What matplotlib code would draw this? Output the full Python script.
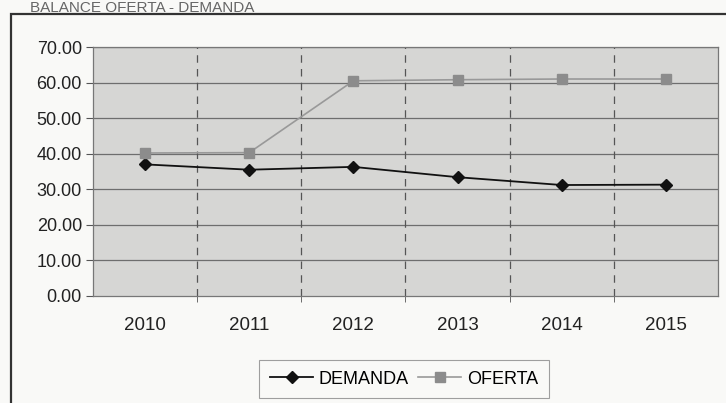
import matplotlib
matplotlib.use("Agg")
import matplotlib.pyplot as plt
from matplotlib.patches import Rectangle

years = ["2010", "2011", "2012", "2013", "2014", "2015"]
demanda = [37.0, 35.5, 36.3, 33.4, 31.2, 31.3]
oferta = [40.2, 40.3, 60.5, 60.8, 61.0, 61.0]
yticks = [0, 10, 20, 30, 40, 50, 60, 70]

plt.rcParams['font.family'] = ['Liberation Sans', 'DejaVu Sans']

fig = plt.figure(figsize=(7.26, 4.03), dpi=100)
fig.patch.set_facecolor('#f9f9f7')

# outer chart frame
fig.patches.append(Rectangle((11/726, -0.05), 1.2, 1 - 14/403 + 0.05,
                             transform=fig.transFigure, fill=False,
                             edgecolor='#333333', linewidth=1.6))
fig.text(30/726, 1.0 - 1/403, "BALANCE OFERTA - DEMANDA", fontsize=11,
         color='#666666', va='top', ha='left')

ax = fig.add_axes([93/726, 1 - 296/403, 625/726, 249/403])
ax.set_facecolor('#d6d6d4')
x = list(range(len(years)))
ax.plot(x, demanda, color='#111111', linewidth=1.3, marker='D', markersize=6.5,
        markerfacecolor='#111111', markeredgecolor='#111111', label='DEMANDA', zorder=3)
ax.plot(x, oferta, color='#999999', linewidth=1.2, marker='s', markersize=6.5,
        markerfacecolor='#8c8c8c', markeredgecolor='#8c8c8c', label='OFERTA', zorder=3)

ax.set_xlim(-0.5, len(years) - 0.5)
ax.set_ylim(0, 70)
ax.set_yticks(yticks)
ax.set_yticklabels([f"{v:.2f}" for v in yticks], fontsize=13, color='#222222')
ax.set_xticks(x)
ax.set_xticklabels(years, fontsize=13.5, color='#222222')
ax.tick_params(axis='x', length=0, pad=15)
ax.tick_params(axis='y', length=5, color='#555555', pad=3)
ax.set_xticks([i + 0.5 for i in range(len(years) - 1)], minor=True)
ax.tick_params(axis='x', which='minor', length=4, color='#555555')

for v in yticks[1:]:
    ax.axhline(v, color='#6e6e6e', linewidth=0.9, zorder=1)
for i in range(len(years) - 1):
    ax.axvline(i + 0.5, color='#555555', linewidth=0.9, linestyle=(0, (6, 5)), zorder=1)

for s in ax.spines.values():
    s.set_color('#777777')
    s.set_linewidth(0.9)

leg = fig.legend(loc='center', bbox_to_anchor=(404/726, 1 - 379/403), ncol=2,
                 frameon=True, fancybox=False, fontsize=13, handlelength=2.4,
                 columnspacing=0.5, handletextpad=0.3, borderpad=0.6)
leg.get_frame().set_edgecolor('#888888')
leg.get_frame().set_linewidth(0.8)
leg.get_frame().set_facecolor('#f9f9f7')

fig.savefig("out.png", dpi=100, facecolor=fig.get_facecolor())
